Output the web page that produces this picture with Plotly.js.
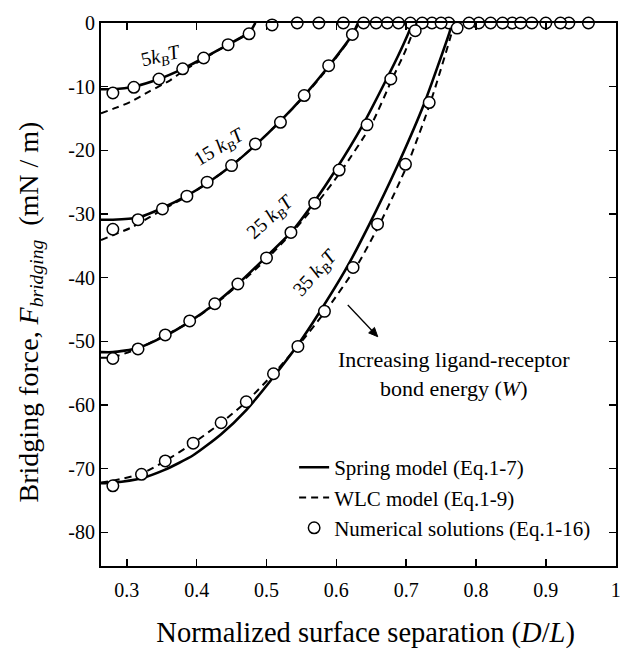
<!DOCTYPE html>
<html>
<head>
<meta charset="utf-8">
<script src="https://cdn.plot.ly/plotly-3.0.1.min.js"></script>
<style>html,body{margin:0;padding:0;background:#fff;}#chart{width:620px;height:652px;}</style>
</head>
<body>
<div id="chart"></div>
<script>
// ---- Spring model (solid) ----
const springX5  = [0.263, 0.280, 0.310, 0.346, 0.380, 0.410, 0.445, 0.465, 0.475, 0.484];
const springY5  = [-10.4, -10.4, -10.0, -8.8, -7.2, -5.5, -3.4, -2.2, -1.6, 0];
const springX15 = [0.263, 0.280, 0.315, 0.350, 0.385, 0.416, 0.450, 0.485, 0.519, 0.554, 0.589, 0.623, 0.631];
const springY15 = [-30.9, -30.9, -30.6, -29.1, -27.2, -25.1, -22.4, -19.1, -15.5, -11.4, -6.8, -1.8, 0];
const springX25 = [0.263, 0.280, 0.315, 0.354, 0.390, 0.426, 0.459, 0.500, 0.535, 0.567, 0.599, 0.638, 0.672, 0.690, 0.706, 0.708];
const springY25 = [-51.7, -51.7, -51.1, -49.2, -46.9, -44.1, -41.0, -36.7, -32.9, -28.3, -23.1, -16.0, -8.8, -4.8, -0.8, 0];
const springX35 = [0.263, 0.280, 0.321, 0.354, 0.395, 0.435, 0.471, 0.510, 0.546, 0.575, 0.614, 0.646, 0.688, 0.726, 0.762, 0.766];
const springY35 = [-72.3, -72.2, -71.5, -70.2, -67.9, -64.6, -60.8, -55.6, -50.4, -45.6, -38.6, -31.9, -22.3, -12.6, -1.5, 0];

// ---- WLC model (dashed) ----
const wlcX5  = [0.263, 0.285, 0.305, 0.333, 0.362, 0.380, 0.410, 0.445, 0.465, 0.475, 0.484];
const wlcY5  = [-14.2, -13.3, -12.4, -10.7, -9.0, -7.6, -5.6, -3.4, -2.2, -1.6, 0];
const wlcX15 = [0.263, 0.283, 0.305, 0.325, 0.350, 0.385, 0.416, 0.450, 0.485, 0.519, 0.555, 0.590, 0.624, 0.632];
const wlcY15 = [-34.1, -33.2, -32.2, -31.0, -29.4, -27.3, -25.1, -22.4, -19.1, -15.5, -11.4, -6.8, -1.8, 0];
const wlcX25 = [0.263, 0.280, 0.315, 0.354, 0.390, 0.426, 0.459, 0.500, 0.535, 0.571, 0.608, 0.650, 0.680, 0.698, 0.711, 0.713];
const wlcY25 = [-52.6, -52.5, -51.2, -49.1, -47.0, -44.2, -41.2, -37.1, -33.1, -28.5, -23.1, -16.0, -8.8, -4.6, -1.0, 0];
const wlcX35 = [0.263, 0.280, 0.321, 0.355, 0.395, 0.435, 0.471, 0.510, 0.546, 0.585, 0.628, 0.662, 0.702, 0.735, 0.765, 0.768];
const wlcY35 = [-72.2, -71.9, -70.8, -68.8, -66.0, -62.8, -59.5, -55.1, -50.6, -45.2, -38.4, -31.6, -22.2, -12.4, -1.6, 0];

// ---- Numerical solutions (open circles) ----
const numX5  = [0.280, 0.310, 0.346, 0.380, 0.410, 0.445, 0.475, 0.508, 0.544, 0.575, 0.610, 0.639, 0.673, 0.706, 0.737];
const numY5  = [-11.0, -10.1, -8.8, -7.2, -5.5, -3.4, -1.7, -0.3, 0, 0, 0, 0, 0, 0, 0];
const numX15 = [0.280, 0.316, 0.351, 0.386, 0.415, 0.450, 0.484, 0.520, 0.554, 0.589, 0.623, 0.657, 0.689, 0.723, 0.761, 0.804, 0.852, 0.900];
const numY15 = [-32.4, -30.9, -29.2, -27.2, -25.0, -22.4, -19.0, -15.6, -11.4, -6.7, -1.8, 0, 0, 0, 0, 0, 0, 0];
const numX25 = [0.280, 0.316, 0.355, 0.390, 0.426, 0.459, 0.500, 0.535, 0.569, 0.604, 0.644, 0.678, 0.713, 0.750, 0.790, 0.838, 0.880, 0.933];
const numY25 = [-52.7, -51.2, -49.0, -46.8, -44.1, -41.0, -36.9, -32.9, -28.3, -23.1, -16.0, -8.8, -1.2, 0, 0, 0, 0, 0];
const numX35 = [0.280, 0.321, 0.355, 0.395, 0.435, 0.471, 0.510, 0.545, 0.583, 0.624, 0.659, 0.699, 0.733, 0.773, 0.821, 0.864, 0.921, 0.961];
const numY35 = [-72.7, -70.9, -68.8, -66.0, -62.8, -59.5, -55.1, -50.8, -45.3, -38.4, -31.6, -22.2, -12.5, -0.8, 0, 0, 0, 0];

// ---- ticks ----
const xTickVals = [0.3, 0.4, 0.5, 0.6, 0.7, 0.8, 0.9, 1.0];
const xTickText = ["0.3", "0.4", "0.5", "0.6", "0.7", "0.8", "0.9", "1"];
const yTickVals = [0, -10, -20, -30, -40, -50, -60, -70, -80];
const yTickText = ["0", "-10", "-20", "-30", "-40", "-50", "-60", "-70", "-80"];

const FONT = "'Liberation Serif', 'Times New Roman', serif";

const springSets = [[springX5, springY5], [springX15, springY15], [springX25, springY25], [springX35, springY35]];
const wlcSets = [[wlcX5, wlcY5], [wlcX15, wlcY15], [wlcX25, wlcY25], [wlcX35, wlcY35]];
const numSets = [[numX5, numY5], [numX15, numY15], [numX25, numY25], [numX35, numY35]];

const traces = [];
springSets.forEach((s, i) => traces.push({
  x: s[0], y: s[1], type: 'scatter', mode: 'lines',
  line: {color: '#000', width: 2.6, shape: 'spline', smoothing: 0.6},
  name: 'Spring model (Eq.1-7)', showlegend: i === 0,
  cliponaxis: false, hoverinfo: 'skip'
}));
wlcSets.forEach((s, i) => traces.push({
  x: s[0], y: s[1], type: 'scatter', mode: 'lines',
  line: {color: '#000', width: 2, dash: '7px,5px', shape: 'spline', smoothing: 0.6},
  name: 'WLC model (Eq.1-9)', showlegend: i === 0,
  cliponaxis: false, hoverinfo: 'skip'
}));
numSets.forEach((s, i) => traces.push({
  x: s[0], y: s[1], type: 'scatter', mode: 'markers',
  marker: {symbol: 'circle', size: 11.5, color: '#fff', line: {color: '#000', width: 1.5}},
  name: 'Numerical solutions (Eq.1-16)', showlegend: i === 0,
  cliponaxis: false, hoverinfo: 'skip'
}));

const kbt = (n, sp) => n + sp + '<i>k</i><sub><i>B</i></sub><i>T</i>';

const layout = {
  width: 620, height: 652,
  margin: {l: 101, r: 4, t: 23, b: 86},
  paper_bgcolor: '#fff', plot_bgcolor: '#fff',
  font: {family: FONT, color: '#000', size: 20},
  showlegend: true,
  legend: {
    x: 0.375, y: 0.219, xanchor: 'left', yanchor: 'top',
    bgcolor: 'rgba(0,0,0,0)', borderwidth: 0, tracegroupgap: 0,
    font: {family: FONT, size: 21, color: '#000'},
    itemwidth: 30
  },
  xaxis: {
    range: [0.263, 1.0005],
    tickvals: xTickVals, ticktext: xTickText,
    ticks: 'inside', ticklen: 7, tickwidth: 1.5, tickcolor: '#000',
    showline: true, linewidth: 2, linecolor: '#000', mirror: 'ticks',
    showgrid: false, zeroline: false,
    tickfont: {family: FONT, size: 20, color: '#000'},
    ticklabelstandoff: 5, ticklabeloverflow: 'allow',
    title: {text: '\u200b\u00a0\u00a0Normalized surface separation (<i>D</i>/<i>L</i>)', font: {family: FONT, size: 28.5, color: '#000'}, standoff: 22}
  },
  yaxis: {
    range: [-85.3, 0],
    tickvals: yTickVals, ticktext: yTickText,
    ticks: 'inside', ticklen: 7, tickwidth: 1.5, tickcolor: '#000',
    showline: true, linewidth: 2, linecolor: '#000', mirror: 'ticks',
    showgrid: false, zeroline: false,
    tickfont: {family: FONT, size: 20, color: '#000'},
    ticklabelstandoff: 0, ticklabeloverflow: 'allow',
    title: {text: 'Bridging force, <i>F</i><sub><i>bridging</i></sub>  (mN / m)\u00a0\u00a0\u00a0\u00a0\u00a0\u200b', font: {family: FONT, size: 28, color: '#000'}, standoff: 22}
  },
  shapes: [
    {type: 'path', xref: 'x', yref: 'y', path: 'M 0.6164,-44.3 L 0.6560,-48.9',
     line: {color: '#000', width: 1.3}},
    {type: 'path', xref: 'x', yref: 'y', path: 'M 0.6593,-49.28 L 0.6463,-48.68 L 0.6546,-47.82 Z',
     fillcolor: '#000', line: {color: '#000', width: 1}}
  ],
  annotations: [
    {x: 0.349, y: -5.3, xref: 'x', yref: 'y', text: kbt('5', ''), showarrow: false, textangle: -13, font: {family: FONT, size: 20}},
    {x: 0.433, y: -19.5, xref: 'x', yref: 'y', text: kbt('15', ' '), showarrow: false, textangle: -31, font: {family: FONT, size: 20}},
    {x: 0.506, y: -30.5, xref: 'x', yref: 'y', text: kbt('25', ' '), showarrow: false, textangle: -42, font: {family: FONT, size: 20}},
    {x: 0.570, y: -39.3, xref: 'x', yref: 'y', text: kbt('35', ' '), showarrow: false, textangle: -48, font: {family: FONT, size: 20}},
    {x: 0.769, y: -55.1, xref: 'x', yref: 'y', text: 'Increasing ligand-receptor<br>bond energy (<i>W</i>)',
     showarrow: false, align: 'center', font: {family: FONT, size: 22}}
  ]
};

Plotly.newPlot('chart', traces, layout, {displayModeBar: false, staticPlot: true}).then(gd => {
  gd.querySelectorAll('text').forEach(t => {
    if (!t.textContent.replace(/[\s\u200b]/g, '')) t.remove();
  });
});
</script>
</body>
</html>
